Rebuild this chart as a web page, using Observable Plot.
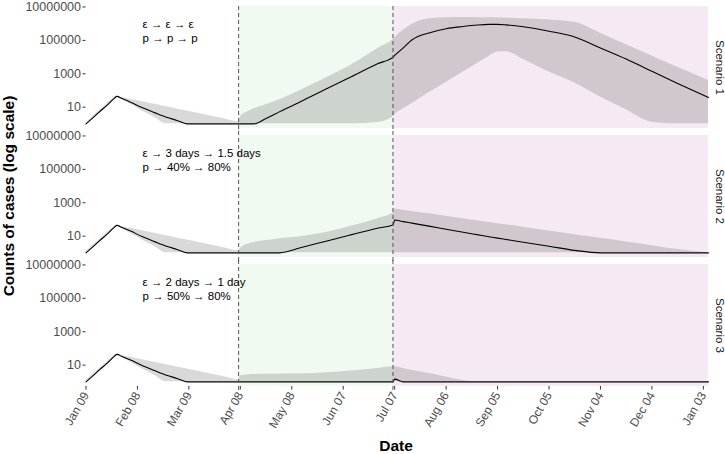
<!DOCTYPE html>
<html>
<head>
<meta charset="utf-8">
<script src="https://cdn.jsdelivr.net/npm/d3@7"></script>
<script src="https://cdn.jsdelivr.net/npm/@observablehq/plot@0.6"></script>
<style>
  html, body { margin: 0; padding: 0; background: #fff; }
  #wrap { position: relative; width: 725px; height: 454px; font-family: "Liberation Sans", Arial, sans-serif; }
  .ytitle { position: absolute; left: 9px; top: 196px; transform: translate(-50%, -50%) rotate(-90deg); font-weight: bold; font-size: 15.5px; white-space: nowrap; color: #000; }
  .xtitle { position: absolute; left: 396px; top: 446px; transform: translate(-50%, -50%); font-weight: bold; font-size: 15.5px; color: #000; }
</style>
</head>
<body>
<div id="wrap">
  <div class="ytitle">Counts of cases (log scale)</div>
  <div class="xtitle">Date</div>
</div>
<script>
// ---------- data ----------
const scenarios = ["Scenario 1", "Scenario 2", "Scenario 3"];
const annotEps = ["ε → ε → ε", "ε → 3 days → 1.5 days", "ε → 2 days → 1 day"];
const annotP = ["p → p → p", "p → 40% → 80%", "p → 50% → 80%"];

const dates = ["2020-01-09","2020-01-13","2020-01-17","2020-01-21","2020-01-25","2020-01-27","2020-01-30","2020-02-04","2020-02-11","2020-02-18","2020-02-25","2020-03-02","2020-03-08","2020-03-19","2020-03-29","2020-04-07","2020-04-08","2020-04-13","2020-04-16","2020-04-23","2020-05-01","2020-05-13","2020-05-28","2020-06-12","2020-06-27","2020-07-06","2020-07-07","2020-07-12","2020-07-17","2020-07-27","2020-08-06","2020-08-16","2020-08-24","2020-08-31","2020-09-05","2020-09-10","2020-09-20","2020-10-05","2020-10-20","2020-11-04","2020-11-19","2020-12-04","2020-12-19","2021-01-06"];

const s1Median = [1, 2.3, 5.4, 12.3, 30, 44, 33, 20, 9.1, 4.7, 2.5, 1.6, 1, 1, 1, 1, 1, 1, 1, 2.1, 5.4, 21, 123, 690, 4000, 10000, 12600, 35500, 105000, 280000, 500000, 680000, 830000, 910000, 910000, 850000, 660000, 355000, 160000, 35000, 7600, 1400, 263, 38];
const s1Upper  = [1.12, 2.8, 6.6, 15, 35, 46, 38, 30, 21, 15, 10.5, 7.8, 5.9, 3.4, 2.1, 1.35, 2.5, 5.6, 7.9, 14, 28, 100, 560, 3500, 32000, 112000, 141000, 400000, 890000, 2000000, 2290000, 2340000, 2290000, 2240000, 2190000, 2140000, 2000000, 1660000, 1200000, 263000, 55000, 11700, 2450, 400];
const s1Lower  = [1, 1.9, 4.2, 9.5, 24, 40, 28, 15, 5.6, 2.4, 1, 1, 1, 1, 1, 1, 1, 1, 1, 1, 1, 1, 1, 1, 1.2, 2.6, 3.5, 8, 16, 72, 300, 1260, 4000, 11000, 20000, 21000, 7100, 1260, 280, 40, 7, 1.26, 1, 1];

const s2Median = [1, 2.3, 5.4, 12.3, 30, 44, 33, 20, 9.1, 4.7, 2.5, 1.6, 1, 1, 1, 1, 1, 1, 1, 1, 1, 2.0, 5.0, 12.3, 30, 47, 93, 74, 60, 40, 26, 17, 12.3, 9.3, 7.6, 6.3, 4.3, 2.5, 1.4, 1, 1, 1, 1, 1];
const s2Upper  = [1.12, 2.8, 6.6, 15, 35, 46, 38, 30, 21, 15, 10.5, 7.8, 5.9, 3.4, 2.1, 1.35, 1.8, 3.5, 4.2, 5.4, 7.1, 9.3, 16.6, 40, 112, 240, 430, 360, 300, 220, 155, 110, 85, 66, 56, 48, 34, 20, 12.3, 7.4, 4.5, 2.7, 1.6, 1];
const s2Lower  = [1, 1.9, 4.2, 9.5, 24, 40, 28, 15, 5.6, 2.4, 1, 1, 1, 1, 1, 1, 1, 1, 1, 1, 1, 1, 1, 1, 1, 1, 1, 1, 1, 1, 1, 1, 1, 1, 1, 1, 1, 1, 1, 1, 1, 1, 1, 1];

const s3Median = [1, 2.3, 5.4, 12.3, 30, 44, 33, 20, 9.1, 4.7, 2.5, 1.6, 1, 1, 1, 1, 1, 1, 1, 1, 1, 1, 1, 1, 1, 1, 1.45, 1, 1, 1, 1, 1, 1, 1, 1, 1, 1, 1, 1, 1, 1, 1, 1, 1];
const s3Upper  = [1.12, 2.8, 6.6, 15, 35, 46, 38, 30, 21, 15, 10.5, 7.8, 5.9, 3.4, 2.1, 1.35, 2.2, 2.7, 2.75, 2.8, 2.9, 3.0, 3.5, 4.5, 6.3, 7.9, 7.9, 6.3, 4.9, 3.1, 1.95, 1.2, 1, 1, 1, 1, 1, 1, 1, 1, 1, 1, 1, 1];
const s3Lower  = [1, 1.9, 4.2, 9.5, 24, 40, 28, 15, 5.6, 2.4, 1, 1, 1, 1, 1, 1, 1, 1, 1, 1, 1, 1, 1, 1, 1, 1, 1, 1, 1, 1, 1, 1, 1, 1, 1, 1, 1, 1, 1, 1, 1, 1, 1, 1];

const interventionDates = ["2020-04-07", "2020-07-06"];
const phaseNames = ["phase 2", "phase 3"];
const phaseStarts = ["2020-04-07", "2020-07-06"];
const phaseEnds = ["2020-07-06", "2021-01-06"];
const xTickDates = ["2020-01-09","2020-02-08","2020-03-09","2020-04-08","2020-05-08","2020-06-07","2020-07-07","2020-08-06","2020-09-05","2020-10-05","2020-11-04","2020-12-04","2021-01-03"];
const yTicks = [10, 1000, 100000, 10000000];

// ---------- build table ----------
const parse = d3.utcParse("%Y-%m-%d");
const medians = [s1Median, s2Median, s3Median];
const uppers = [s1Upper, s2Upper, s3Upper];
const lowers = [s1Lower, s2Lower, s3Lower];
const rows = [];
scenarios.forEach((s, k) => dates.forEach((d, i) => rows.push({
  scenario: s, date: parse(d), median: medians[k][i], upper: uppers[k][i], lower: lowers[k][i]
})));
const phases = phaseNames.map((p, i) => ({phase: p, start: parse(phaseStarts[i]), end: parse(phaseEnds[i])}));
const annots = scenarios.map((s, i) => ({scenario: s, eps: annotEps[i], p: annotP[i]}));
const annotDate = parse("2020-02-11");
const ruleTop = interventionDates.map(d => ({scenario: scenarios[0], date: parse(d)}));
const ruleRest = scenarios.slice(1).flatMap(s => interventionDates.map(d => ({scenario: s, date: parse(d)})));

const chart = Plot.plot({
  width: 725,
  height: 454,
  marginLeft: 85.5,
  marginRight: 17,
  marginTop: 6,
  marginBottom: 68,
  style: {fontFamily: "'Liberation Sans', Arial, sans-serif", background: "transparent", overflow: "visible"},
  x: {type: "utc", domain: [parse("2020-01-09"), parse("2021-01-06")]},
  y: {type: "log", domain: [0.525, 1.07e7]},
  fy: {domain: scenarios, paddingInner: 0.054, paddingOuter: 0, round: false, axis: null},
  color: {domain: phaseNames, range: ["#f1faf1", "#f5eaf4"]},
  marks: [
    Plot.rect(phases, {x1: "start", x2: "end", fill: "phase"}),
    Plot.areaY(rows, {x: "date", y1: "lower", y2: "upper", fy: "scenario", fill: "black", fillOpacity: 0.15, curve: "monotone-x"}),
    Plot.lineY(rows, {x: "date", y: "median", fy: "scenario", stroke: "black", strokeWidth: 1.1, curve: "monotone-x"}),
    Plot.ruleX(ruleTop, {x: "date", fy: "scenario", stroke: "#555", strokeWidth: 1, strokeDasharray: "4,3", insetBottom: -4}),
    Plot.ruleX(ruleRest, {x: "date", fy: "scenario", stroke: "#555", strokeWidth: 1, strokeDasharray: "4,3", insetTop: -4, insetBottom: -4}),
    Plot.text(annots, {fy: "scenario", x: () => annotDate, y: () => 0.95e6, text: "eps", textAnchor: "start", fontSize: 11.5, fill: "#000"}),
    Plot.text(annots, {fy: "scenario", x: () => annotDate, y: () => 1.3e5, text: "p", textAnchor: "start", fontSize: 11.5, fill: "#000"}),
    Plot.text(scenarios, {fy: d => d, text: d => d, frameAnchor: "right", dx: 11, rotate: 90, textAnchor: "middle", lineAnchor: "middle", fontSize: 11.5, fill: "#1a1a1a"}),
    Plot.axisY({ticks: yTicks, tickFormat: d => String(d), tickSize: 3, tickPadding: 2, fontSize: 12.5, color: "#4d4d4d", stroke: "#333", label: null}),
    Plot.axisX({ticks: xTickDates.map(parse), tickFormat: d3.utcFormat("%b %d"), tickRotate: -60, tickSize: 3.5, tickPadding: 3, fontSize: 12, color: "#4d4d4d", stroke: "#333", label: null})
  ]
});
document.getElementById("wrap").prepend(chart);
</script>
</body>
</html>
